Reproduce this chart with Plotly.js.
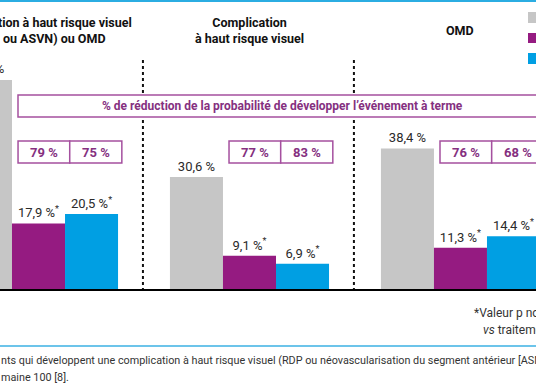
<!DOCTYPE html>
<html>
<head>
<meta charset="utf-8">
<script src="https://cdn.plot.ly/plotly-3.0.1.min.js"></script>
<style>html,body{margin:0;padding:0;background:#fff;}#chart{width:536px;height:386px;}</style>
</head>
<body>
<div id="chart"></div>
<script>
// ---- data ----
const groups = [0, 1, 2];
const groupTitles = ["Complication à haut risque visuel<br>(RDP ou ASVN) ou OMD", "Complication<br>à haut risque visuel", "OMD"];
const seriesNames = ["Traitement simulé", "Aflibercept 2 mg toutes les 16 semaines", "Aflibercept 2 mg toutes les 8 semaines"];
const shamValues = [57.1, 30.6, 38.4];
const q16Values = [17.9, 9.1, 11.3];
const q8Values = [20.5, 6.9, 14.4];
const q16Reduction = ["79 %", "77 %", "76 %"];
const q8Reduction = ["75 %", "83 %", "68 %"];
const boxTitle = "% de réduction de la probabilité de développer l’événement à terme";
const footRight1 = "*Valeur p nominale < 0,05";
const footRight2 = "<i>vs</i> traitement simulé";
const caption1 = "nts qui développent une complication à haut risque visuel (RDP ou néovascularisation du segment antérieur [ASNV]) ou un OMD";
const caption2 = "maine 100 [8].";

const colors = ["#c6c6c6", "#951b81", "#009fe3"];
const purpleLine = "#a5509f";
const purpleText = "#85307f";
const W = 536, H = 386;
const py = p => 1 - p / H;
const px = p => p / W;
const xRange = [-0.1825, 2.358];
const bargap = 0.246;
const barW = (1 - bargap) / 3;

function fmt(v, star) {
  return v.toFixed(1).replace('.', ',') + ' %' + (star ? '<sup>*</sup>' : '');
}

const labelFont = {family: "Roboto, sans-serif", size: 13, color: "#2a2a2a"};
function barTrace(vals, name, color, star) {
  return {
    type: 'bar', x: groups, y: vals, name: name,
    marker: {color: color, line: {width: 0}},
    text: vals.map(v => fmt(v, star)),
    textposition: 'outside', cliponaxis: false, constraintext: 'none',
    textfont: labelFont, hoverinfo: 'skip'
  };
}

const traces = [
  barTrace(shamValues, seriesNames[0], colors[0], false),
  barTrace(q16Values, seriesNames[1], colors[1], true),
  barTrace(q8Values, seriesNames[2], colors[2], true)
];

const shapes = [];
// top and bottom light-blue rules
shapes.push({type: 'rect', xref: 'paper', yref: 'paper', x0: 0, x1: 1, y0: py(0), y1: py(2), fillcolor: '#2badE2', line: {width: 0}});
shapes.push({type: 'line', xref: 'paper', yref: 'paper', x0: 0, x1: 1, y0: py(346), y1: py(346), line: {color: '#6cc4ea', width: 2}});
// dotted separators
[0.5, 1.5].forEach(xv => shapes.push({type: 'line', xref: 'x', yref: 'paper', x0: xv - 0.005, x1: xv - 0.005, y0: py(60), y1: py(289), line: {color: '#111', width: 2, dash: 'dot'}}));
// big box
shapes.push({type: 'rect', xref: 'paper', yref: 'paper', x0: px(18), x1: px(546), y0: py(117), y1: py(95), fillcolor: '#fff', line: {color: purpleLine, width: 1.5}});
// small boxes
const annotations = [];
groups.forEach((g, i) => {
  const l = g - 0.097, m = g + 0.148, r = g + 0.395;
  shapes.push({type: 'rect', xref: 'x', yref: 'paper', x0: l, x1: m, y0: py(163), y1: py(141), fillcolor: '#fff', line: {color: purpleLine, width: 1.5}});
  shapes.push({type: 'rect', xref: 'x', yref: 'paper', x0: m, x1: r, y0: py(163), y1: py(141), fillcolor: '#fff', line: {color: purpleLine, width: 1.5}});
  const tf = {family: "Roboto, sans-serif", size: 13, color: purpleText, weight: 'bold'};
  annotations.push({xref: 'x', yref: 'paper', x: (l + m) / 2, y: py(152), xanchor: 'center', yanchor: 'middle', text: q16Reduction[i], showarrow: false, font: tf});
  annotations.push({xref: 'x', yref: 'paper', x: (m + r) / 2, y: py(152), xanchor: 'center', yanchor: 'middle', text: q8Reduction[i], showarrow: false, font: tf});
  annotations.push({xref: 'x', yref: 'paper', x: g, y: py(30), xanchor: 'center', yanchor: 'middle', text: groupTitles[i], showarrow: false,
    font: {family: "Roboto, sans-serif", size: 12.5, color: '#111', weight: 'bold'}});
});
// legend swatches
[[12, 23], [33, 43], [53, 64]].forEach((r, i) => shapes.push({type: 'rect', xref: 'paper', yref: 'paper', x0: px(528), x1: px(545), y0: py(r[1]), y1: py(r[0]), fillcolor: colors[i], line: {width: 0}}));

// label of the partly visible first bar (Plotly hides bar text whose centre is off-axis)
const firstBarX = (groups[0] - barW - xRange[0]) / (xRange[1] - xRange[0]);
annotations.push({xref: 'paper', yref: 'y', x: firstBarX, y: shamValues[0], xanchor: 'center', yanchor: 'bottom', yshift: 2,
  text: fmt(shamValues[0], false), showarrow: false, font: labelFont});

annotations.push({xref: 'paper', yref: 'paper', x: px(282), y: py(106), xanchor: 'center', yanchor: 'middle', text: boxTitle, showarrow: false,
  font: {family: "Roboto, sans-serif", size: 12, color: purpleText, weight: 'bold'}});
annotations.push({xref: 'paper', yref: 'paper', x: px(472), y: py(313), xanchor: 'left', yanchor: 'middle', text: footRight1, showarrow: false,
  font: {family: "Roboto, sans-serif", size: 12, color: '#333'}});
annotations.push({xref: 'paper', yref: 'paper', x: px(481), y: py(330), xanchor: 'left', yanchor: 'middle', text: footRight2, showarrow: false,
  font: {family: "Roboto, sans-serif", size: 12, color: '#333'}});
annotations.push({xref: 'paper', yref: 'paper', x: px(-1), y: py(360), xanchor: 'left', yanchor: 'middle', text: caption1, showarrow: false,
  font: {family: "Roboto, sans-serif", size: 10.8, color: '#333'}});
annotations.push({xref: 'paper', yref: 'paper', x: px(-1), y: py(377), xanchor: 'left', yanchor: 'middle', text: caption2, showarrow: false,
  font: {family: "Roboto, sans-serif", size: 10.8, color: '#333'}});

const layout = {
  width: W, height: H,
  margin: {l: 0, r: 0, t: 0, b: 0, pad: 0},
  paper_bgcolor: '#fff', plot_bgcolor: '#fff',
  showlegend: false,
  barmode: 'group', bargap: bargap, bargroupgap: 0,
  separators: ', ',
  xaxis: {range: xRange, showgrid: false, zeroline: false, showticklabels: false, ticks: '',
    showline: true, linecolor: '#000', linewidth: 1.5, fixedrange: true},
  yaxis: {range: [0, 78.96], domain: [1 - 289 / H, 1], visible: false, fixedrange: true},
  shapes: shapes,
  annotations: annotations
};

Plotly.newPlot('chart', traces, layout, {displayModeBar: false, staticPlot: true});
</script>
</body>
</html>
